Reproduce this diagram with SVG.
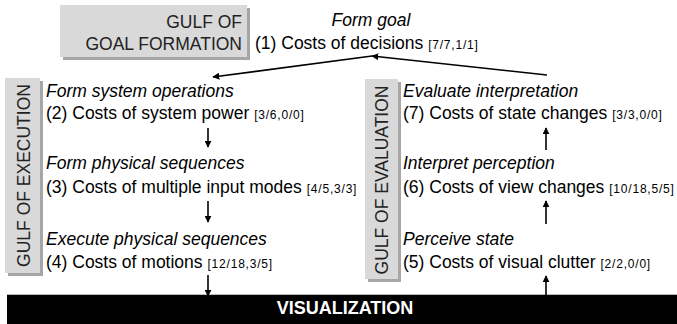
<svg xmlns="http://www.w3.org/2000/svg" width="677" height="324" viewBox="0 0 677 324">
<style>
.t{font-family:"Liberation Sans",Arial,sans-serif;font-size:17.5px;fill:#000}
.i{font-style:italic}
.s{font-size:12px;letter-spacing:0.8px}
.g{font-family:"Liberation Sans",Arial,sans-serif;font-size:17.5px;fill:#222}
.box{fill:#d9d9d9}
.sh{fill:#a6a6a6}
.c{stroke:#000;stroke-width:1.6;fill:none;marker-end:url(#ah)}
</style>
<defs>
<marker id="ah" viewBox="0 0 10 10" refX="9" refY="5" markerWidth="7" markerHeight="7" markerUnits="userSpaceOnUse" orient="auto">
<path d="M0,0 L10,5 L0,10 z" fill="#000"/>
</marker>
</defs>
<rect width="677" height="324" fill="#fff"/>

<g id="gulf-goal">
<rect class="sh" x="63" y="8" width="187" height="52"/>
<rect class="box" x="60" y="5" width="187" height="52"/>
<text class="g" x="242" y="28" text-anchor="end">GULF OF</text>
<text class="g" x="242" y="50" text-anchor="end">GOAL FORMATION</text>
</g>

<g id="gulf-execution">
<rect class="sh" x="8" y="81" width="35" height="195"/>
<rect class="box" x="5" y="78" width="35" height="195"/>
<text class="g" transform="translate(30,175.5) rotate(-90)" text-anchor="middle">GULF OF EXECUTION</text>
</g>

<g id="gulf-evaluation">
<rect class="sh" x="368" y="82" width="33" height="200"/>
<rect class="box" x="365" y="79" width="33" height="200"/>
<text class="g" transform="translate(388,180) rotate(-90)" text-anchor="middle">GULF OF EVALUATION</text>
</g>

<g id="node1">
<text class="t i" x="371" y="26" text-anchor="middle">Form goal</text>
<text class="t" x="255" y="49">(1) Costs of decisions <tspan class="s">[7/7,1/1]</tspan></text>
</g>

<g id="node2">
<text class="t i" x="46" y="96.5">Form system operations</text>
<text class="t" x="46" y="119">(2) Costs of system power <tspan class="s">[3/6,0/0]</tspan></text>
</g>

<g id="node3">
<text class="t i" x="46" y="169">Form physical sequences</text>
<text class="t" x="46" y="192.5">(3) Costs of multiple input modes <tspan class="s">[4/5,3/3]</tspan></text>
</g>

<g id="node4">
<text class="t i" x="46" y="245">Execute physical sequences</text>
<text class="t" x="46" y="268">(4) Costs of motions <tspan class="s">[12/18,3/5]</tspan></text>
</g>

<g id="node5">
<text class="t i" x="403" y="245">Perceive state</text>
<text class="t" x="403" y="268">(5) Costs of visual clutter <tspan class="s">[2/2,0/0]</tspan></text>
</g>

<g id="node6">
<text class="t i" x="403" y="169">Interpret perception</text>
<text class="t" x="403" y="192.5">(6) Costs of view changes <tspan class="s">[10/18,5/5]</tspan></text>
</g>

<g id="node7">
<text class="t i" x="403" y="96.5">Evaluate interpretation</text>
<text class="t" x="403" y="119">(7) Costs of state changes <tspan class="s">[3/3,0/0]</tspan></text>
</g>

<g id="visualization">
<rect x="7" y="294" width="670" height="30" fill="#000"/>
<line x1="7" y1="294.5" x2="677" y2="294.5" stroke="#bbb" stroke-width="1"/>
<text x="345" y="314" text-anchor="middle" font-family="'Liberation Sans',Arial,sans-serif" font-size="18" font-weight="bold" fill="#fff">VISUALIZATION</text>
</g>

<g id="connectors">
<line class="c" x1="547" y1="75" x2="372" y2="56"/>
<line class="c" x1="372" y1="56" x2="213" y2="77"/>
<line class="c" x1="208" y1="128" x2="208" y2="147"/>
<line class="c" x1="208" y1="201" x2="208" y2="222"/>
<line class="c" x1="208" y1="275" x2="208" y2="296"/>
<line class="c" x1="546" y1="150" x2="546" y2="128"/>
<line class="c" x1="546" y1="224" x2="546" y2="201"/>
<line class="c" x1="546" y1="295" x2="546" y2="276"/>
</g>
</svg>
